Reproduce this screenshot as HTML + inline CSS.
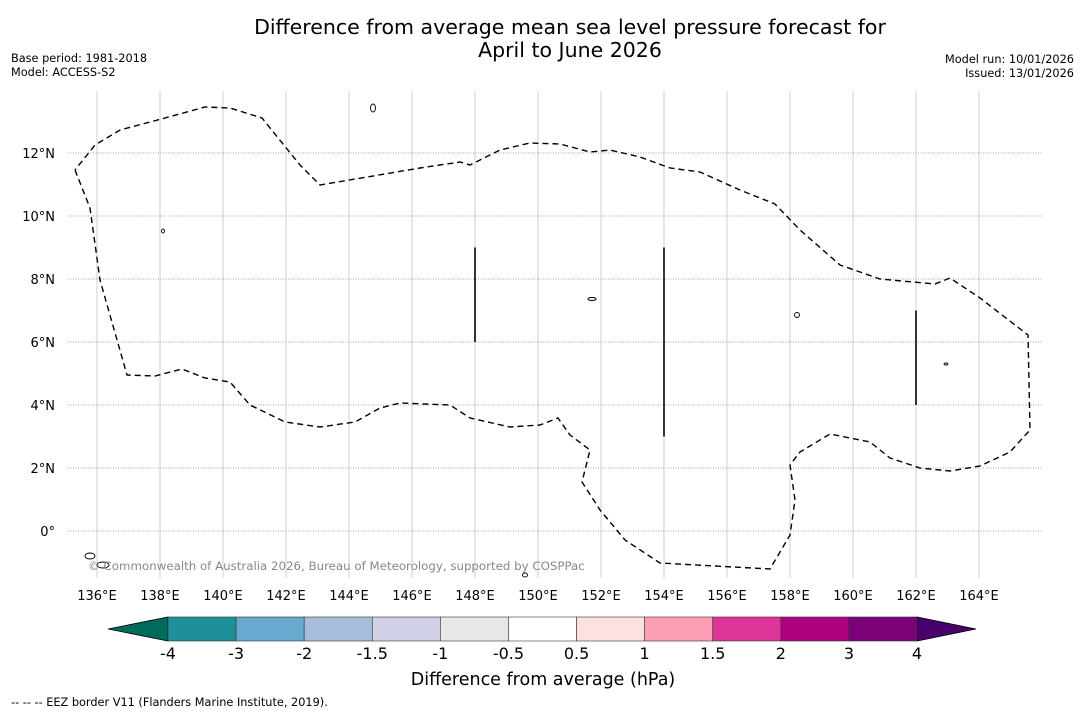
<!DOCTYPE html>
<html><head><meta charset="utf-8"><style>
body{margin:0;background:#fff;font-family:"Liberation Sans","DejaVu Sans",sans-serif;}
#wrap{position:relative;width:1085px;height:713px;overflow:hidden;}
svg text{font-family:"DejaVu Sans","Liberation Sans",sans-serif;}
</style></head><body>
<div id="wrap">
<svg id="svg" width="1085" height="713" xmlns="http://www.w3.org/2000/svg">
<text x="570" y="34" font-size="20.5" text-anchor="middle">Difference from average mean sea level pressure forecast for</text>
<text x="570" y="57" font-size="20.5" text-anchor="middle">April to June 2026</text>
<text x="11" y="62" font-size="11.3">Base period: 1981-2018</text>
<text x="11" y="76" font-size="11.3">Model: ACCESS-S2</text>
<text x="1074" y="63" font-size="11.3" text-anchor="end">Model run: 10/01/2026</text>
<text x="1074" y="77" font-size="11.3" text-anchor="end">Issued: 13/01/2026</text>
<g id="grid"></g>
<g id="ticks"></g>
<polyline fill="none" stroke="#000" stroke-width="1.4" stroke-dasharray="6,4" points="75,170 90,208 100,280 127,375 155,376 182,369 205,378 230,382 250,405 285,422 320,427 355,422 380,408 400,403 450,405 470,418 510,427 540,425 558,418 570,435 590,450 582,482 600,510 625,540 660,563 770,569 790,535 795,500 790,465 800,452 830,434 870,442 890,458 920,468 950,471 980,466 1010,452 1030,430 1028,335 980,298 950,278 935,284 880,279 840,265 800,230 775,204 740,190 700,172 670,168 640,157 610,150 590,152 560,144 530,143 500,150 470,165 460,162 420,168 320,185 300,165 262,118 230,108 205,107 165,118 150,122 120,130 95,145 75,170"/>
<g id="marks"></g>
<g fill="none" stroke="#000" stroke-width="0.9">
<ellipse cx="373" cy="108" rx="2.5" ry="4"/><ellipse cx="163" cy="231" rx="1.5" ry="2"/><ellipse cx="592" cy="299" rx="4" ry="1.5"/><ellipse cx="797" cy="315" rx="2.5" ry="2.5"/><ellipse cx="946" cy="364" rx="2" ry="1"/><ellipse cx="90" cy="556" rx="5" ry="3"/><ellipse cx="103" cy="565" rx="6" ry="3"/><ellipse cx="525" cy="575" rx="2.5" ry="2"/>
</g>
<text x="88" y="570" font-size="11.8" fill="#888">© Commonwealth of Australia 2026, Bureau of Meteorology, supported by COSPPac</text>
<g id="cbar"></g>
<text x="543" y="685" font-size="17.5" text-anchor="middle">Difference from average (hPa)</text>
<text x="11" y="706" font-size="11.3">--  --  -- EEZ border V11 (Flanders Marine Institute, 2019).</text>
</svg>
</div>
<script>
const lonTicks=[136,138,140,142,144,146,148,150,152,154,156,158,160,162,164];
const latTicks=[0,2,4,6,8,10,12];
const latLabels=["0°","2°N","4°N","6°N","8°N","10°N","12°N"];
const lineLons=[148,154,162];
const lineLatTop=[9,9,7];
const lineLatBottom=[6,3,4];
const cbarLabels=["-4","-3","-2","-1.5","-1","-0.5","0.5","1","1.5","2","3","4"];
const cbarColors=["#1f8f99","#67a9cf","#a6bddb","#d0d1e6","#e8e8e8","#ffffff","#fde0e0","#fa9fb5","#dd3497","#ae017e","#7a0177"];
const NS="http://www.w3.org/2000/svg";
const X=lon=>97+(lon-136)*31.5, Y=lat=>531-lat*31.5;
function mk(t,a,p){const e=document.createElementNS(NS,t);for(const k in a)e.setAttribute(k,a[k]);p.appendChild(e);return e;}
const grid=document.getElementById('grid'),ticks=document.getElementById('ticks');
lonTicks.forEach(l=>{const g=mk('line',{x1:X(l),x2:X(l),y1:91,y2:578,stroke:'#bbb','stroke-width':0.7},grid);

const t=mk('text',{x:X(l),y:600,'font-size':13,'text-anchor':'middle'},ticks);t.textContent=l+'°E';
});
latTicks.forEach((l,i)=>{const g=mk('line',{x1:68,x2:1042,y1:Y(l),y2:Y(l),stroke:'#888','stroke-width':0.8,'stroke-dasharray':'1,1.5'},grid);

const t=mk('text',{x:55,y:Y(l)+5,'font-size':13,'text-anchor':'end'},ticks);t.textContent=latLabels[i];
});
const marks=document.getElementById('marks');
lineLons.forEach((l,i)=>{const m=mk('line',{x1:X(l),x2:X(l),y1:Y(lineLatTop[i]),y2:Y(lineLatBottom[i]),stroke:'#000','stroke-width':1.6},marks);
});
const cb=document.getElementById('cbar');const x0=168,x1=917,w=(x1-x0)/cbarColors.length,y0=617,h=24;
const lt=mk('polygon',{points:`108,${y0+h/2} ${x0},${y0} ${x0},${y0+h}`,fill:'#006b5a',stroke:'#000','stroke-width':0.8},cb);

const rt=mk('polygon',{points:`976,${y0+h/2} ${x1},${y0} ${x1},${y0+h}`,fill:'#49006a',stroke:'#000','stroke-width':0.8},cb);

cbarColors.forEach((c,i)=>{const r=mk('rect',{x:x0+i*w,y:y0,width:w,height:h,fill:c,stroke:'#333','stroke-width':0.6},cb);
});
cbarLabels.forEach((s,i)=>{const t=mk('text',{x:x0+i*w,y:659,'font-size':16,'text-anchor':'middle'},cb);t.textContent=s;
});
</script>
</body></html>
